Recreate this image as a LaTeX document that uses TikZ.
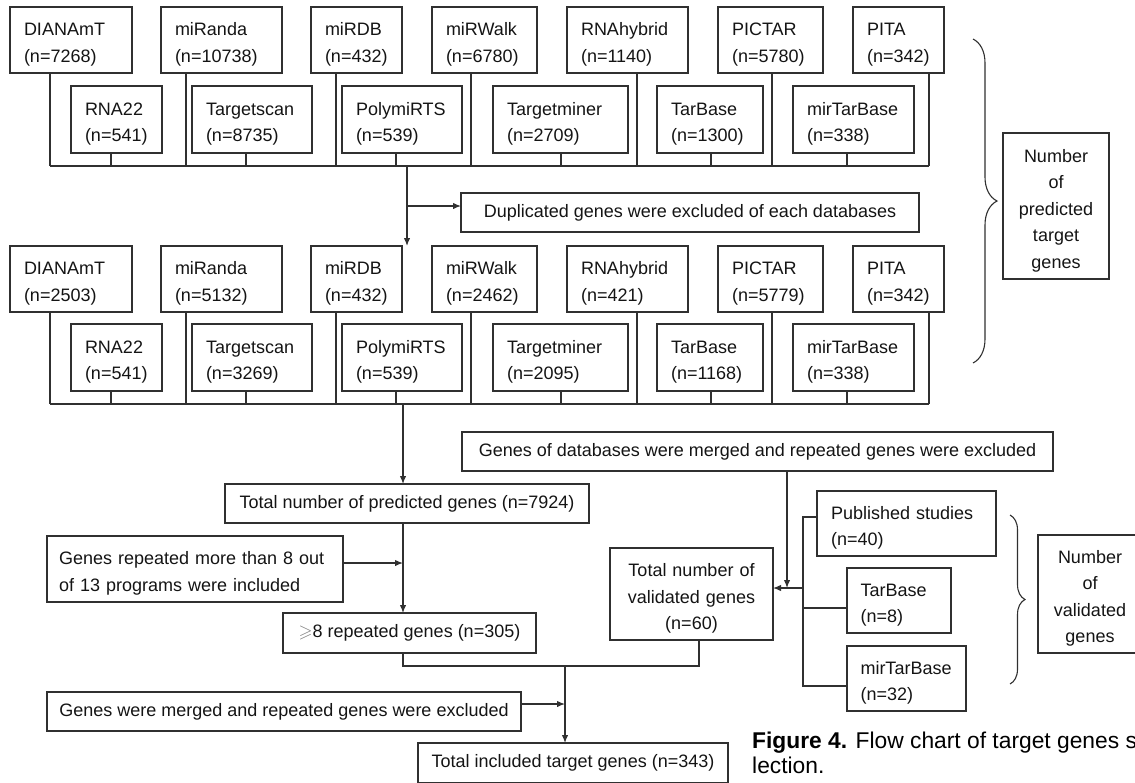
\documentclass[tikz,border=0pt]{standalone}
\usepackage{amssymb}
\usepackage{fontspec}
\setmainfont{Liberation Sans}
\usetikzlibrary{arrows.meta,decorations.pathreplacing}
\definecolor{linec}{HTML}{303030}
\definecolor{txt}{HTML}{141414}
\newcommand\boxfont{\fontsize{18}{26.5}\selectfont}
\newcommand\vsh{\rule{0pt}{22pt}}
\newcommand\stemto[3]{\path ([xshift=#2]#1.south west) coordinate (#1-s); \draw[line] (#1-s) -- (#1-s |- #3);}
\tikzset{
  box/.style={draw=linec, line width=1.3pt, inner sep=0pt, outer sep=0pt, font=\boxfont, text=txt},
  db/.style={box, align=left, inner xsep=14pt, minimum height=66pt},
  cbox/.style={box, align=center},
  lbox/.style={box, align=left, inner xsep=14pt},
  line/.style={draw=linec, line width=1.3pt},
  arr/.style={line, -{Latex[length=8pt,width=6.5pt]}},
  brc/.style={draw=linec, line width=1.1pt, decorate},
}
\begin{document}
\begin{tikzpicture}[x=1pt,y=-1pt]
\useasboundingbox (0,0) rectangle (1135,782);
\clip (0,0) rectangle (1135,782);
% ---------- row 1 ----------
\node[db, text width=94pt] (r1A) at (71,40) {\vsh DIANAmT\\(n=7268)};
\node[db, text width=93pt] (r1B) at (221.5,40) {\vsh miRanda\\(n=10738)};
\node[db, text width=63pt] (r1C) at (356.5,40) {\vsh miRDB\\(n=432)};
\node[db, text width=77pt] (r1D) at (484.5,40) {\vsh miRWalk\\(n=6780)};
\node[db, text width=93pt] (r1E) at (627.5,40) {\vsh RNAhybrid\\(n=1140)};
\node[db, text width=77pt] (r1F) at (770.5,40) {\vsh PICTAR\\(n=5780)};
\node[db, text width=63pt] (r1G) at (898.5,40) {\vsh PITA\\(n=342)};
\node[db, text width=63pt, minimum height=67pt] (r1a) at (116.5,119.5) {\vsh RNA22\\(n=541)};
\node[db, text width=92pt, minimum height=67pt] (r1b) at (252,119.5) {\vsh Targetscan\\(n=8735)};
\node[db, text width=92pt, minimum height=67pt] (r1c) at (402,119.5) {\vsh PolymiRTS\\(n=539)};
\node[db, text width=107pt, minimum height=67pt] (r1d) at (560.5,119.5) {\vsh Targetminer\\(n=2709)};
\node[db, text width=78pt, minimum height=67pt] (r1e) at (710,119.5) {\vsh TarBase\\(n=1300)};
\node[db, text width=93pt, minimum height=67pt] (r1f) at (853.5,119.5) {\vsh mirTarBase\\(n=338)};
\coordinate (b1) at (407,166);
\stemto{r1A}{40}{b1}\stemto{r1a}{40}{b1}
\stemto{r1B}{25}{b1}\stemto{r1b}{54}{b1}
\stemto{r1C}{25}{b1}\stemto{r1c}{54}{b1}
\stemto{r1D}{39}{b1}\stemto{r1d}{68}{b1}
\stemto{r1E}{70}{b1}\stemto{r1e}{54}{b1}
\stemto{r1F}{54}{b1}\stemto{r1f}{54}{b1}
\stemto{r1G}{76}{b1}
\draw[line] (r1A-s |- b1) -- (r1G-s |- b1);
% duplicated
\node[cbox, minimum width=458pt, minimum height=39pt] (dup) at (690,212.5) {Duplicated genes were excluded of each databases};
% ---------- row 2 ----------
\node[db, text width=94pt] (r2A) at (71,279) {\vsh DIANAmT\\(n=2503)};
\node[db, text width=93pt] (r2B) at (221.5,279) {\vsh miRanda\\(n=5132)};
\node[db, text width=63pt] (r2C) at (356.5,279) {\vsh miRDB\\(n=432)};
\node[db, text width=77pt] (r2D) at (484.5,279) {\vsh miRWalk\\(n=2462)};
\node[db, text width=93pt] (r2E) at (627.5,279) {\vsh RNAhybrid\\(n=421)};
\node[db, text width=77pt] (r2F) at (770.5,279) {\vsh PICTAR\\(n=5779)};
\node[db, text width=63pt] (r2G) at (898.5,279) {\vsh PITA\\(n=342)};
\node[db, text width=63pt, minimum height=67pt] (r2a) at (116.5,357.5) {\vsh RNA22\\(n=541)};
\node[db, text width=92pt, minimum height=67pt] (r2b) at (252,357.5) {\vsh Targetscan\\(n=3269)};
\node[db, text width=92pt, minimum height=67pt] (r2c) at (402,357.5) {\vsh PolymiRTS\\(n=539)};
\node[db, text width=107pt, minimum height=67pt] (r2d) at (560.5,357.5) {\vsh Targetminer\\(n=2095)};
\node[db, text width=78pt, minimum height=67pt] (r2e) at (710,357.5) {\vsh TarBase\\(n=1168)};
\node[db, text width=93pt, minimum height=67pt] (r2f) at (853.5,357.5) {\vsh mirTarBase\\(n=338)};
\coordinate (b2) at (403,404);
\stemto{r2A}{40}{b2}\stemto{r2a}{40}{b2}
\stemto{r2B}{25}{b2}\stemto{r2b}{54}{b2}
\stemto{r2C}{25}{b2}\stemto{r2c}{54}{b2}
\stemto{r2D}{39}{b2}\stemto{r2d}{68}{b2}
\stemto{r2E}{70}{b2}\stemto{r2e}{54}{b2}
\stemto{r2F}{54}{b2}\stemto{r2f}{54}{b2}
\stemto{r2G}{76}{b2}
\draw[line] (r2A-s |- b2) -- (r2G-s |- b2);
% arrows between rows
\draw[arr] (b1) -- (b1 |- r2C.north);
\coordinate (j1) at (407,206);
\draw[arr] (j1) -- (j1 -| dup.west);
% predicted brace + box
\draw[brc, decoration={brace, amplitude=24pt}] (973,39) -- (973,363);
\node[cbox, text width=98pt, inner xsep=4pt, minimum height=146pt] (np) at (1056,206) {\vsh Number\\of\\predicted\\target\\genes};
% ---------- bottom ----------
\node[cbox, minimum width=591pt, minimum height=39pt] (gd) at (757.5,451.5) {Genes of databases were merged and repeated genes were excluded};
\node[cbox, minimum width=364pt, minimum height=39pt] (tp) at (407,503.5) {Total number of predicted genes (n=7924)};
\node[box, align=left, inner xsep=12pt, text width=272pt, minimum height=66pt] (rep) at (195,569) {\vsh\makebox[272pt][s]{Genes repeated more than 8 out}\\of 13 programs were included};
\node[cbox, minimum width=253pt, minimum height=40pt] (r8) at (409.5,633) {\textcolor{gray}{$\geqslant$}8 repeated genes (n=305)};
\node[cbox, text width=155pt, inner xsep=4pt, minimum height=92pt] (tv) at (691.5,594) {\vsh Total number of\\validated genes\\(n=60)};
\node[lbox, text width=151pt, minimum height=65pt] (ps) at (906.5,523.5) {\vsh Published studies\\(n=40)};
\node[lbox, text width=77pt, inner xsep=13.5pt, minimum height=65pt] (tb) at (899,600.5) {\vsh TarBase\\(n=8)};
\node[lbox, text width=92pt, inner xsep=13.5pt, minimum height=65pt] (mt) at (906.5,678.5) {\vsh mirTarBase\\(n=32)};
\draw[brc, decoration={brace, amplitude=15pt}] (1010,515) -- (1010,684);
\node[cbox, text width=96pt, inner xsep=4pt, minimum height=118pt] (nv) at (1090,594) {\vsh Number\\of\\validated\\genes};
\node[cbox, minimum width=474pt, minimum height=39pt] (gm) at (284,711.5) {Genes were merged and repeated genes were excluded};
\node[cbox, minimum width=310pt, minimum height=40pt] (ti) at (573,763) {Total included target genes (n=343)};
% connectors bottom
\draw[arr] (b2) -- (b2 |- tp.north);
\coordinate (j2) at (403,563);
\draw[arr] (tp.south -| b2) -- (b2 |- r8.north);
\draw[arr] (rep.east |- j2) -- (j2);
\coordinate (m) at (565,666);
\coordinate (tvs) at (699,640);
\draw[line] (r8.south -| b2) |- (m) -| (tvs);
\draw[arr] (m) -- (m |- ti.north);
\coordinate (j3) at (565,704);
\draw[arr] (gm.east |- j3) -- (j3);
\coordinate (j4) at (787,588);
\draw[arr] (gd.south -| j4) -- (j4);
\coordinate (vt) at (803,517);
\coordinate (vm) at (803,608);
\coordinate (vb) at (803,686);
\coordinate (va) at (803,588);
\draw[line] (ps.west |- vt) -- (vt) -- (vb) -- (mt.west |- vb);
\draw[line] (vm) -- (tb.west |- vm);
\draw[arr] (va) -- (tv.east |- va);
% caption
\node[anchor=base west, inner sep=0pt, font=\fontsize{22.8}{25}\selectfont, text=black] (cap1) at (752,748) {\textbf{Figure 4.} Flow chart of target genes s};
\node[anchor=base west, inner sep=0pt, font=\fontsize{22.8}{25}\selectfont, text=black] (cap2) at (752,773) {lection.};
\end{tikzpicture}
\end{document}
